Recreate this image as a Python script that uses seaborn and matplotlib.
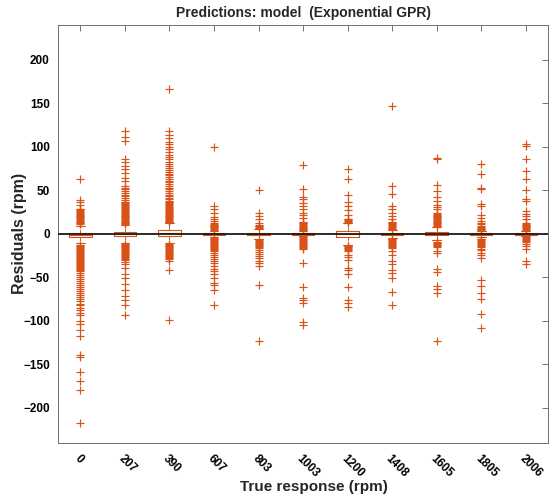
import numpy as np
import pandas as pd
import seaborn as sns
import matplotlib.pyplot as plt

# categories (true response, rpm)
responses = ["0", "207", "390", "607", "803", "1003", "1200", "1408", "1605", "1805", "2006"]

# box summary (rpm)
whisker_lo = [-11, -10.5, -10.5, -3.5, -5.5, -3, -12.5, -4.5, -7, -3.5, -3]
box_q1 = [-4, -3, -2, -1, -1.5, -0.8, -3.4, -1.2, -1.5, -1, -0.8]
box_med = [-1, 0, 0.5, 0, 0, 0, 0, 0, 0, 0, 0]
box_q3 = [1.5, 2.5, 4, 1, 1.5, 0.8, 3, 1.2, 2.5, 1, 0.8]
whisker_hi = [9, 10, 12.5, 3.5, 5.5, 3, 12, 4.5, 8, 3.5, 3]
core_counts = [4, 100, 100, 100, 4]

# outliers per category (rpm)
out_0 = [63, 38.5, 36, 33.5, 29, 28, 27, 26, 25, 24, 23, 22, 21, 20, 19, 18, 17, 16, 15, 14,
         13, 12, 11,
         -12.5, -13.5, -14.5, -15.5, -16.5, -17.5, -18.5, -19.5, -20.5, -21.5, -22.5, -23.5,
         -24.5, -25.5, -26.5, -27.5, -28.5, -29.5, -30.5, -31.5, -32.5, -33.5, -34.5, -35.5,
         -36.5, -37.5, -38.5, -39.5, -40.5, -41.5, -42.5, -45, -47, -49.5, -52, -54, -56.5,
         -59, -61, -63.5, -66, -68, -70.5, -73, -75, -77.5, -80, -82, -85, -88, -91, -93,
         -100.5, -104, -110, -117.5, -139, -142, -159, -168.5, -179, -217]
out_207 = [118, 111, 107, 86.5, 83, 78, 74, 70, 64, 61, 55, 53, 51, 49, 47, 45, 43, 41, 39, 37,
           36, 35, 34, 33, 32, 31, 30, 29, 28, 27, 26, 25, 24, 23, 22, 21, 20, 19, 18, 17, 16,
           15, 14, 13, 12, 11.5,
           -11.5, -12.5, -13.5, -14.5, -15.5, -16.5, -17.5, -18.5, -19.5, -20.5, -21.5, -22.5,
           -23.5, -24.5, -25.5, -26.5, -27.5, -28.5, -29.5, -32.5, -35, -39, -46.5, -50.5,
           -57.5, -64, -71, -76.5, -82, -93.5]
out_390 = [166, 118, 114, 110, 106, 103, 100, 97, 94, 91, 88, 85.5, 83, 80.5, 78, 75.5, 73, 71,
           69, 67, 65, 63, 61, 59, 57, 55, 53, 51, 49, 47, 45, 43, 41, 39.5, 38, 37, 36, 35, 34,
           33, 32, 31, 30, 29, 28, 27, 26, 25, 24, 23, 22, 21, 20, 19, 18, 17, 16, 15, 14, 13.5,
           -11.5, -12.5, -13.5, -14.5, -15.5, -16.5, -17.5, -18.5, -19.5, -20.5, -21.5, -22.5,
           -23.5, -24.5, -25.5, -26.5, -27.5, -29, -31.5, -41, -99.5]
out_607 = [99.5, 32, 28, 23.5, 19, 16.5, 14.5, 13, 11.5, 10.5, 9.5, 8.5, 7.5, 6.5, 5.5, 4.5,
           -4.5, -5.5, -6.5, -7.5, -8.5, -9.5, -10.5, -11.5, -12.5, -13.5, -14.5, -15.5, -16.5,
           -17.5, -18.5, -19.5, -22, -24, -26.5, -29, -31.5, -34, -37, -40, -43, -46.5, -50.5,
           -56, -59, -64, -82]
out_803 = [50, 24, 20.5, 16.5, 12, 10.5, 9.5, 8.5, 7.5, 6.5,
           -7, -8, -9, -10, -11, -12, -13, -14, -15, -16, -18, -20.5, -23, -25.5, -28, -31, -34,
           -37, -59, -123]
out_1003 = [78.5, 51, 42.5, 39.5, 35.5, 32, 28, 24, 21.5, 18.5, 14, 13, 12, 11, 10, 9, 8, 7, 6,
            5, 4,
            -4, -5, -6, -7, -8, -9, -10, -11, -12, -13, -14, -15, -16, -17.5, -34, -61, -73.5,
            -76, -79, -101.5, -105]
out_1200 = [74, 63, 45, 37, 32, 27, 22, 17.5, 16.5, 15.5, 14.5, 13.5, 13,
            -13.5, -14.5, -15.5, -16.5, -17.5, -18.5, -20, -24, -27, -30.5, -39, -42, -46, -61,
            -75.5, -79, -84]
out_1408 = [147, 55, 46, 32, 28, 24, 20, 16.5, 14, 13, 12, 11, 10, 9, 8, 7, 6, 5,
            -5.5, -6.5, -7.5, -8.5, -9.5, -10.5, -11.5, -12.5, -13.5, -14.5, -15.5, -16.5, -20,
            -24, -31.5, -35, -41, -45, -50.5, -67, -82]
out_1605 = [87.5, 85.5, 56.5, 49, 42, 37.5, 33.5, 30.5, 28, 24, 23, 22, 21, 20, 19, 18, 17, 16,
            15, 14, 13, 12, 11, 10, 9,
            -9, -10, -11, -12, -13, -14, -15, -20, -22, -40, -43.5, -60, -63, -68, -123]
out_1805 = [80, 69, 53, 51, 34.5, 32, 22, 18.5, 15, 13, 11.5, 9, 8, 7, 6, 5, 4.5,
            -5.5, -6.5, -7.5, -8.5, -9.5, -10.5, -11.5, -12.5, -14, -15.5, -17, -19, -21.5, -24,
            -27.5, -52.5, -59.5, -68, -75, -92.5, -108]
out_2006 = [103, 101, 85.5, 72, 62.5, 50, 39.5, 37.5, 26, 23, 20, 16.5, 12.5, 11.5, 10.5, 9.5,
            8.5, 7.5, 6.5, 5.5, 4.5, 3.5,
            -4, -5, -6, -7, -8, -9, -11.5, -14, -17, -31.5, -35]
outliers = [out_0, out_207, out_390, out_607, out_803, out_1003, out_1200, out_1408,
            out_1605, out_1805, out_2006]

#%% Build long table
rows = []
for i, resp in enumerate(responses):
    core = np.repeat([whisker_lo[i], box_q1[i], box_med[i], box_q3[i], whisker_hi[i]], core_counts)
    vals = np.concatenate([core, outliers[i]])
    rows.append(pd.DataFrame({"response": resp, "residual": vals}))
df = pd.concat(rows, ignore_index=True)

#%% Plot
sns.set_theme(style="white")
plt.rcParams['font.family'] = ['Liberation Sans', 'DejaVu Sans']
orange = '#D95319'
axcol = '0.35'

fig, ax = plt.subplots(figsize=(5.49, 4.97), dpi=100)
fig.subplots_adjust(left=0.106, right=0.998, bottom=0.109, top=0.95)

sns.boxplot(data=df, x="response", y="residual", order=responses, ax=ax,
            width=0.5, fill=False, color=orange, linewidth=0.8, whis=1.5,
            boxprops=dict(color=orange, linewidth=0.8),
            medianprops=dict(color=orange, linewidth=0.8),
            whiskerprops=dict(color=orange, linestyle='--', linewidth=0.7),
            capprops=dict(color=orange, linewidth=0.8),
            flierprops=dict(marker='+', color=orange, markeredgecolor=orange,
                            markerfacecolor=orange, markersize=5.5,
                            markeredgewidth=0.85),
            capwidths=0.2)

ax.axhline(0, color='#1a1a1a', lw=1.3, zorder=5)

ax.set_xlim(-0.5, len(responses) - 0.5)
ax.set_ylim(-240, 240)
ax.set_yticks(np.arange(-200, 201, 50))
ax.tick_params(direction='in', top=True, right=True, length=4, width=0.6,
               color=axcol, labelsize=8.5, labelcolor='black')
ax.tick_params(axis='x', pad=7)
ax.tick_params(axis='y', pad=6)
for lab in ax.get_xticklabels() + ax.get_yticklabels():
    lab.set_fontweight('bold')
plt.setp(ax.get_xticklabels(), rotation=-45, ha='left', va='top', rotation_mode='anchor')
for sp in ax.spines.values():
    sp.set_visible(True)
    sp.set_color(axcol)
    sp.set_linewidth(0.6)

ax.set_xlabel("True response (rpm)", fontsize=11, fontweight='bold')
ax.xaxis.set_label_coords(0.522, -0.09)
ax.set_ylabel("Residuals (rpm)", fontsize=11.5, fontweight='bold')
ax.yaxis.set_label_coords(-0.063, 0.5)
ax.set_title("Predictions: model  (Exponential GPR)", fontsize=10, fontweight='bold', pad=6)

fig.savefig("out.png", dpi=100)
